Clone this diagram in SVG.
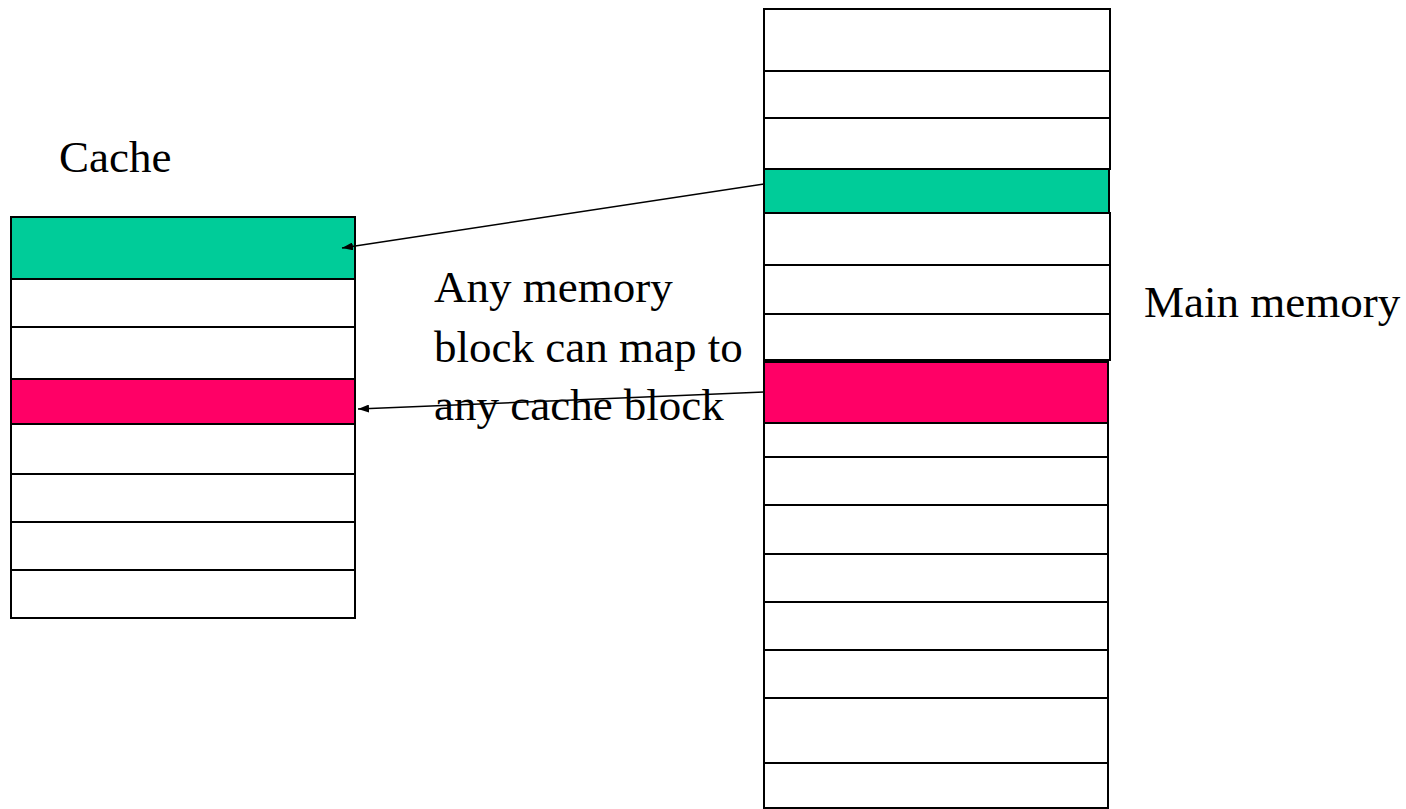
<svg xmlns="http://www.w3.org/2000/svg" width="1406" height="809" viewBox="0 0 1406 809">
  <style>
    .blk { fill: #ffffff; stroke: #000000; stroke-width: 2; }
    .hit-a { fill: #00cc99; stroke: #000000; stroke-width: 2; }
    .hit-b { fill: #ff0066; stroke: #000000; stroke-width: 2; }
    .label { font-family: "Liberation Serif", "Times New Roman", serif; font-size: 45px; fill: #000000; }
    .link { stroke: #000000; stroke-width: 1.5; fill: none; marker-end: url(#head); }
  </style>
  <defs>
    <marker id="head" markerUnits="userSpaceOnUse" markerWidth="12" markerHeight="8" refX="11" refY="4" orient="auto">
      <path d="M0,0 L11,4 L0,8 z" fill="#000000"/>
    </marker>
  </defs>

  <rect width="1406" height="809" fill="#ffffff"/>

  <!-- Cache: eight blocks -->
  <g id="cache">
    <rect class="hit-a" x="11" y="217" width="344" height="62"/>
    <rect class="blk" x="11" y="279" width="344" height="48"/>
    <rect class="blk" x="11" y="327" width="344" height="52"/>
    <rect class="hit-b" x="11" y="379" width="344" height="45"/>
    <rect class="blk" x="11" y="424" width="344" height="50"/>
    <rect class="blk" x="11" y="474" width="344" height="48"/>
    <rect class="blk" x="11" y="522" width="344" height="48"/>
    <rect class="blk" x="11" y="570" width="344" height="48"/>
  </g>

  <!-- Main memory: upper and lower runs of blocks -->
  <g id="main-memory">
    <rect class="blk" x="764" y="9" width="346" height="62"/>
    <rect class="blk" x="764" y="71" width="346" height="47"/>
    <rect class="blk" x="764" y="118" width="346" height="51"/>
    <rect class="hit-a" x="764" y="169" width="345" height="44"/>
    <rect class="blk" x="764" y="213" width="346" height="52"/>
    <rect class="blk" x="764" y="265" width="346" height="49"/>
    <rect class="blk" x="764" y="314" width="346" height="46"/>
    <rect class="hit-b" x="764" y="362" width="344" height="61"/>
    <rect class="blk" x="764" y="423" width="344" height="34"/>
    <rect class="blk" x="764" y="457" width="344" height="48"/>
    <rect class="blk" x="764" y="505" width="344" height="49"/>
    <rect class="blk" x="764" y="554" width="344" height="48"/>
    <rect class="blk" x="764" y="602" width="344" height="48"/>
    <rect class="blk" x="764" y="650" width="344" height="48"/>
    <rect class="blk" x="764" y="698" width="344" height="65"/>
    <rect class="blk" x="764" y="763" width="344" height="45"/>
  </g>

  <!-- Mapping arrows from memory blocks to cache blocks -->
  <g id="connectors">
    <line class="link" x1="764" y1="184" x2="342" y2="248"/>
    <line class="link" x1="764" y1="392" x2="358" y2="409"/>
  </g>

  <g id="labels">
    <text class="label" x="59" y="172">Cache</text>
    <text class="label" x="1144" y="317">Main memory</text>
    <text class="label" x="434" y="302">Any memory</text>
    <text class="label" x="434" y="362">block can map to</text>
    <text class="label" x="434" y="420">any cache block</text>
  </g>
</svg>
